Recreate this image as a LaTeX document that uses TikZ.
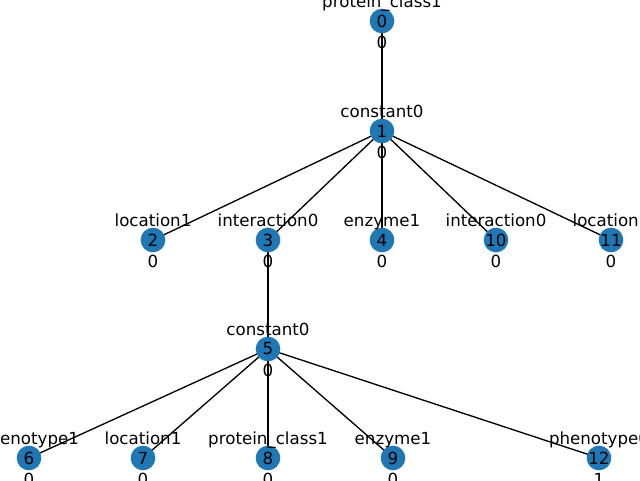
\documentclass[tikz,border=0pt]{standalone}
\usepackage{fontspec}
\setmainfont{DejaVu Sans}
\pgfdeclarelayer{edges}
\pgfsetlayers{edges,main}
\definecolor{vblue}{HTML}{1F77B4}
\begin{document}
\begin{tikzpicture}[x=0.75pt,y=-0.75pt,
  vertex/.style={circle,fill=vblue,minimum size=18.5pt,inner sep=0pt,font=\fontsize{12.5}{15}\selectfont},
  toplab/.style={anchor=base,inner sep=0pt,font=\fontsize{12.5}{15}\selectfont},
  botlab/.style={anchor=base,inner sep=0pt,font=\fontsize{12.5}{15}\selectfont},
  link/.style={draw=black,line width=1pt}]
\useasboundingbox (0,0) rectangle (640,480);
\clip (0,0) rectangle (640,480);
% vertices: name / x / y / name text / value
\foreach \n/\x/\y/\t/\v in {
  0/382/21/protein\_class1/0,
  1/382/131/constant0/0,
  2/153/240/location1/0,
  3/268/240/interaction0/0,
  4/382/240/enzyme1/0,
  10/496/240/interaction0/0,
  11/611/240/location1/0,
  5/268/349/constant0/0,
  6/29/458/phenotype1/0,
  7/143/458/location1/0,
  8/268/458/protein\_class1/0,
  9/393/458/enzyme1/0,
  12/599/458/phenotype0/1}{
  \node[vertex] (v\n) at (\x,\y) {\n};
  \node[toplab] (t\n) at (\x,\y-14) {\t};
  \node[botlab] (b\n) at (\x,\y+27) {\v};
}
\begin{pgfonlayer}{edges}
\foreach \a/\b in {0/1,1/2,1/3,1/4,1/10,1/11,3/5,5/6,5/7,5/8,5/9,5/12}
  \draw[link] (v\a.center) -- (v\b.center);
\end{pgfonlayer}
\end{tikzpicture}
\end{document}
